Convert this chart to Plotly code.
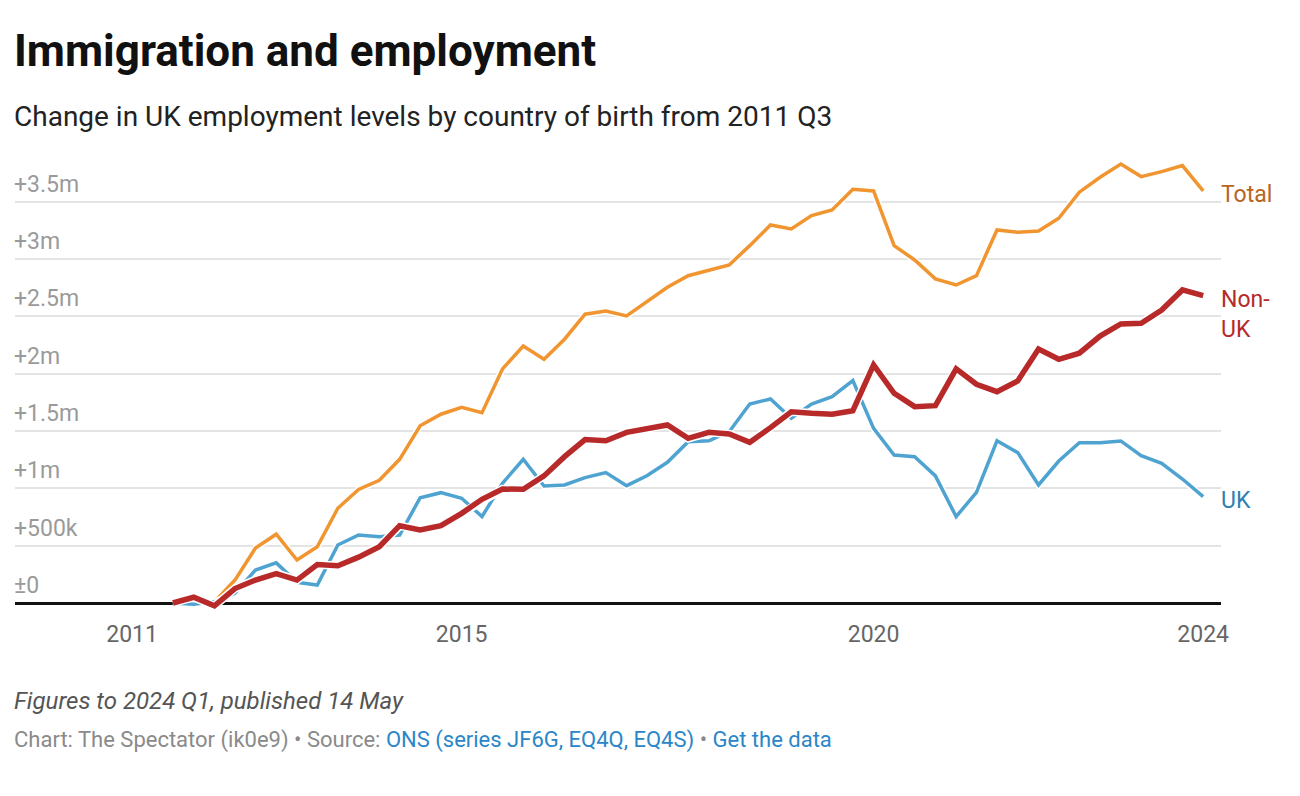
import plotly.graph_objects as go
import pandas as pd

# ---------------- data ----------------
quarter_start = "2011Q3"
quarter_end = "2024Q1"
quarters = pd.period_range(quarter_start, quarter_end, freq="Q")
dates = [q.start_time.strftime("%Y-%m-%d") for q in quarters]

# change in employment since 2011 Q3, millions
total = [0.00, 0.04, 0.01, 0.20, 0.48, 0.60, 0.375, 0.49, 0.826, 0.99,
         1.07, 1.253, 1.545, 1.646, 1.707, 1.660, 2.041, 2.241, 2.125, 2.300,
         2.518, 2.546, 2.503, 2.628, 2.753, 2.854, 2.904, 2.948, 3.116, 3.296,
         3.261, 3.378, 3.427, 3.608, 3.593, 3.116, 2.991, 2.826, 2.773, 2.854,
         3.253, 3.233, 3.244, 3.355, 3.582, 3.712, 3.828, 3.718, 3.761, 3.814,
         3.593]
uk_born = [0.00, -0.01, 0.01, 0.085, 0.288, 0.35, 0.18, 0.157, 0.506, 0.593,
           0.578, 0.593, 0.918, 0.962, 0.913, 0.753, 1.044, 1.253, 1.020, 1.029,
           1.093, 1.137, 1.023, 1.110, 1.227, 1.407, 1.415, 1.494, 1.735, 1.779,
           1.611, 1.735, 1.799, 1.939, 1.523, 1.291, 1.276, 1.108, 0.753, 0.965,
           1.415, 1.311, 1.029, 1.238, 1.398, 1.398, 1.413, 1.285, 1.218, 1.081,
           0.927]
non_uk = [0.00, 0.05, -0.025, 0.126, 0.20, 0.257, 0.20, 0.335, 0.325, 0.40,
          0.491, 0.674, 0.637, 0.674, 0.782, 0.904, 0.994, 0.991, 1.108, 1.276,
          1.425, 1.415, 1.488, 1.523, 1.552, 1.436, 1.488, 1.474, 1.401, 1.529,
          1.668, 1.654, 1.646, 1.677, 2.076, 1.829, 1.712, 1.721, 2.041, 1.907,
          1.843, 1.936, 2.215, 2.125, 2.178, 2.328, 2.433, 2.439, 2.555, 2.730,
          2.680]

y_tick_vals = [0, 0.5, 1, 1.5, 2, 2.5, 3, 3.5]
y_tick_text = ["±0", "+500k", "+1m", "+1.5m", "+2m", "+2.5m", "+3m", "+3.5m"]
x_tick_vals = ["2011-01-01", "2015-01-01", "2020-01-01", "2024-01-01"]
x_tick_text = ["2011", "2015", "2020", "2024"]

# ---------------- styling ----------------
W, H = 1300, 796
OFF = 8                      # page body margin offset
PLOT_LEFT, PLOT_RIGHT = 15, 1221     # target page pixels
PLOT_TOP, PLOT_BOTTOM = 150, 610
M_L = PLOT_LEFT - OFF
M_T = PLOT_TOP - OFF
M_R = W - (PLOT_RIGHT - OFF)
M_B = H - (PLOT_BOTTOM - OFF)
PLOT_H = PLOT_BOTTOM - PLOT_TOP
FONT = "Roboto"
LX = -3                      # compensate annotation padding on left texts

C_TOTAL = "#f0952f"
C_NONUK = "#b8292a"
C_UK = "#4fa3d1"
C_TOTAL_LBL = "#b8641e"
C_NONUK_LBL = "#b52b2b"
C_UK_LBL = "#2f80ae"


def py(px):
    """target page pixel row -> paper y"""
    return (PLOT_BOTTOM - px) / PLOT_H


fig = go.Figure()

series = [
    ("Total", total, C_TOTAL, 3.5),
    ("UK", uk_born, C_UK, 3.5),
    ("Non-UK", non_uk, C_NONUK, 5.5),
]
for name, vals, col, w in series:
    fig.add_trace(go.Scatter(x=dates, y=vals, mode="lines",
                             line=dict(color="white", width=w + 3),
                             hoverinfo="skip", showlegend=False))
    fig.add_trace(go.Scatter(x=dates, y=vals, mode="lines", name=name,
                             line=dict(color=col, width=w),
                             showlegend=False))

annotations = []
# title / subtitle
annotations.append(dict(text="<b>Immigration and employment</b>", x=0, y=py(51),
                        xref="paper", yref="paper", xanchor="left", yanchor="middle",
                        xshift=LX, showarrow=False,
                        font=dict(family=FONT, size=44, color="#111111")))
annotations.append(dict(text="Change in UK employment levels by country of birth from 2011 Q3",
                        x=0, y=py(116), xref="paper", yref="paper", xanchor="left",
                        yanchor="middle", xshift=LX, showarrow=False,
                        font=dict(family=FONT, size=28, color="#222222")))
# footer
annotations.append(dict(text="<i>Figures to 2024 Q1, published 14 May</i>",
                        x=0, y=py(701), xref="paper", yref="paper", xanchor="left",
                        yanchor="middle", xshift=LX, showarrow=False,
                        font=dict(family=FONT, size=24, color="#555555")))
annotations.append(dict(
    text=("Chart: The Spectator (ik0e9) • Source: "
          "<span style='color:#2a86c8'>ONS (series JF6G, EQ4Q, EQ4S)</span>"
          " • <span style='color:#2a86c8'>Get the data</span>"),
    x=0, y=py(740), xref="paper", yref="paper", xanchor="left", yanchor="middle",
    xshift=LX, showarrow=False, font=dict(family=FONT, size=22, color="#8a8a8a")))

# y tick labels above the gridlines
for v, t in zip(y_tick_vals, y_tick_text):
    annotations.append(dict(text=t, x=0, y=v, xref="paper", yref="y",
                            xanchor="left", yanchor="bottom", xshift=LX, yshift=2,
                            showarrow=False,
                            font=dict(family=FONT, size=23, color="#9a9a9a")))

# series end labels
annotations.append(dict(text="Total", x=1, y=total[-1], xref="paper", yref="y",
                        xanchor="left", yanchor="middle", xshift=-2, yshift=-4,
                        showarrow=False, font=dict(family=FONT, size=23, color=C_TOTAL_LBL)))
annotations.append(dict(text="Non-<br>UK", x=1, y=non_uk[-1], xref="paper", yref="y",
                        xanchor="left", yanchor="middle", xshift=-2, yshift=-19,
                        align="left",
                        showarrow=False, font=dict(family=FONT, size=23, color=C_NONUK_LBL)))
annotations.append(dict(text="UK", x=1, y=uk_born[-1], xref="paper", yref="y",
                        xanchor="left", yanchor="middle", xshift=-2, yshift=-4,
                        showarrow=False, font=dict(family=FONT, size=23, color=C_UK_LBL)))

fig.update_layout(
    width=W, height=H,
    margin=dict(l=M_L, r=M_R, t=M_T, b=M_B, pad=0),
    paper_bgcolor="white", plot_bgcolor="white",
    showlegend=False,
    annotations=annotations,
    xaxis=dict(type="date", range=["2009-07-31", "2024-03-20"],
               tickvals=x_tick_vals, ticktext=x_tick_text,
               showgrid=False, zeroline=False, showline=False,
               ticks="outside", ticklen=3, tickcolor="rgba(0,0,0,0)",
               tickfont=dict(family=FONT, size=23, color="#666666")),
    yaxis=dict(range=[-0.061, 3.950], tickvals=y_tick_vals, showticklabels=False,
               showgrid=True, gridcolor="#e4e4e4", gridwidth=2,
               zeroline=True, zerolinecolor="#111111", zerolinewidth=2.5,
               showline=False, fixedrange=True),
)

fig.write_html("out.html")
